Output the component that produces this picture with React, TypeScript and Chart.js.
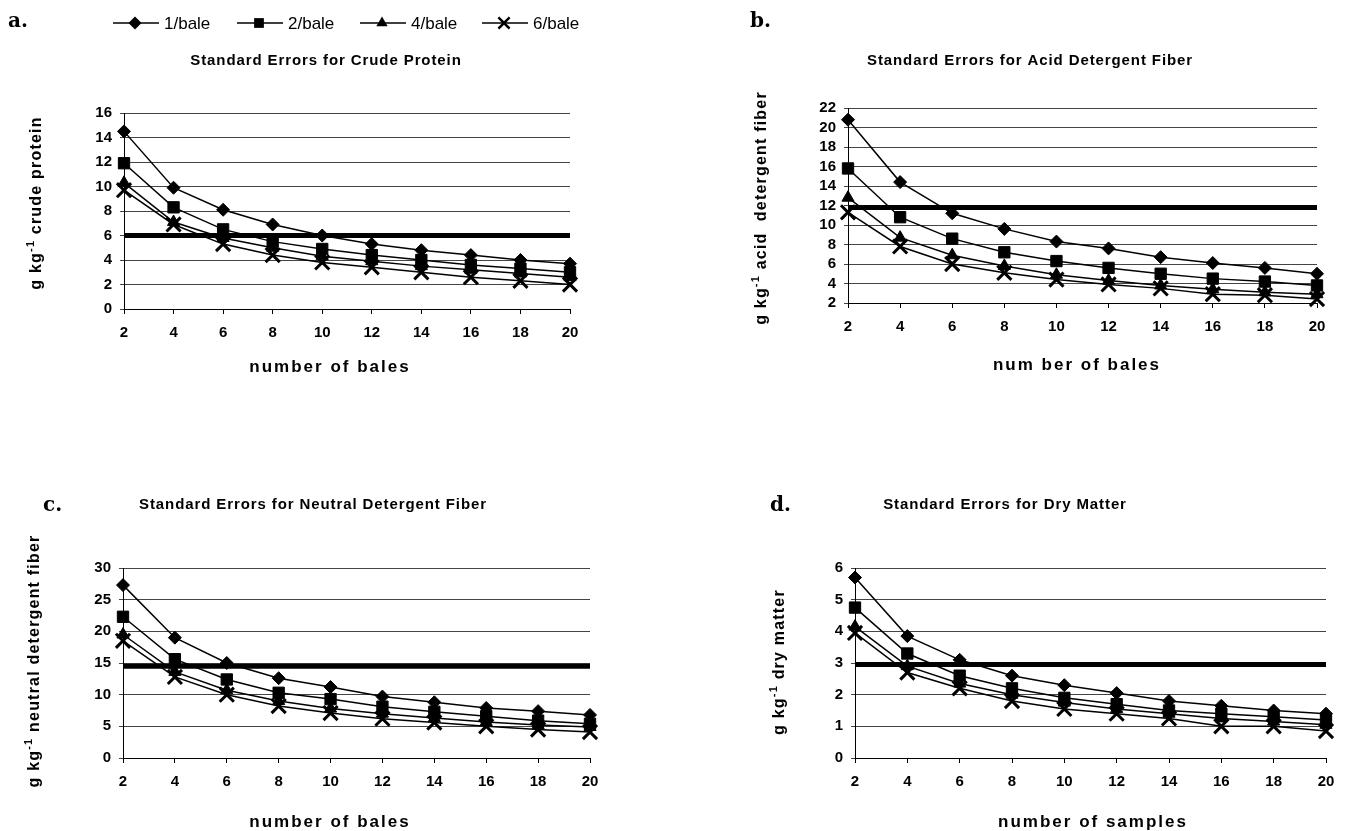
import React, { useEffect, useRef } from 'react';
import { Chart, registerables } from 'chart.js';
Chart.register(...registerables);

// ---------- data ----------
const bales = [2, 4, 6, 8, 10, 12, 14, 16, 18, 20];
const seriesNames = ['1/bale', '2/bale', '4/bale', '6/bale'];

const cpOne = [14.5, 9.9, 8.1, 6.9, 6.0, 5.3, 4.8, 4.4, 4.0, 3.7];
const cpTwo = [11.9, 8.3, 6.5, 5.5, 4.9, 4.4, 4.0, 3.6, 3.3, 3.0];
const cpFour = [10.3, 7.1, 5.8, 5.0, 4.3, 3.9, 3.5, 3.2, 2.9, 2.6];
const cpSix = [9.7, 6.9, 5.3, 4.4, 3.8, 3.4, 3.0, 2.6, 2.3, 2.0];
const cpLimit = 6.0;

const adfOne = [20.8, 14.4, 11.2, 9.6, 8.3, 7.6, 6.7, 6.1, 5.6, 5.0];
const adfTwo = [15.8, 10.8, 8.6, 7.2, 6.3, 5.6, 5.0, 4.5, 4.2, 3.8];
const adfFour = [12.8, 8.7, 6.9, 5.8, 4.9, 4.3, 3.8, 3.4, 3.1, 2.9];
const adfSix = [11.3, 7.8, 6.0, 5.1, 4.4, 3.9, 3.5, 2.9, 2.8, 2.4];
const adfLimit = 11.8;

const ndfOne = [27.3, 19.0, 15.0, 12.6, 11.2, 9.7, 8.8, 7.9, 7.4, 6.8];
const ndfTwo = [22.3, 15.6, 12.4, 10.3, 9.3, 8.1, 7.3, 6.6, 5.9, 5.4];
const ndfFour = [19.5, 13.6, 10.7, 9.0, 7.8, 7.0, 6.3, 5.7, 5.2, 4.9];
const ndfSix = [18.5, 12.8, 10.0, 8.2, 7.1, 6.2, 5.6, 5.0, 4.5, 4.1];
const ndfLimit = 14.5;

const dmOne = [5.7, 3.85, 3.1, 2.6, 2.3, 2.05, 1.8, 1.65, 1.5, 1.4];
const dmTwo = [4.75, 3.3, 2.6, 2.2, 1.9, 1.7, 1.5, 1.4, 1.3, 1.2];
const dmFour = [4.15, 2.9, 2.35, 2.0, 1.75, 1.55, 1.4, 1.25, 1.15, 1.05];
const dmSix = [3.95, 2.7, 2.2, 1.8, 1.55, 1.4, 1.25, 1.0, 1.0, 0.85];
const dmLimit = 2.95;

// ---------- styles / layout ----------
const SANS = '"Liberation Sans", Arial, sans-serif';
const SERIF = '"DejaVu Serif", "Liberation Serif", serif';
const markerStyles = ['rectRot', 'rect', 'triangle', 'crossRot'];
const markerRadius = [6.5, 8, 7, 10];
const Y_AXIS_W = 40;
const X_AXIS_H = 30;

type Panel = {
  letter: string; title: string; yTitle: string; xTitle: string;
  series: number[][]; limit: number; yMin: number; yMax: number; yStep: number;
  box: { L: number; T: number; W: number; H: number };
  area: { left: number; top: number; right: number; bottom: number };
  letterPos: [number, number]; titlePos: [number, number];
  xTitlePos: [number, number]; yTitlePos: [number, number];
  legend?: boolean;
};

const panels: Panel[] = [
  {
    letter: 'a.', title: 'Standard Errors for Crude Protein', yTitle: ' crude protein', xTitle: 'number of bales',
    series: [cpOne, cpTwo, cpFour, cpSix], limit: cpLimit, yMin: 0, yMax: 16, yStep: 2,
    box: { L: 0, T: 0, W: 670, H: 420 }, area: { left: 124, top: 113, right: 570, bottom: 309 },
    letterPos: [8, 27], titlePos: [326, 61], xTitlePos: [330, 367], yTitlePos: [37, 203], legend: true,
  },
  {
    letter: 'b.', title: 'Standard Errors for Acid Detergent Fiber', yTitle: ' acid  detergent fiber', xTitle: 'num ber of bales',
    series: [adfOne, adfTwo, adfFour, adfSix], limit: adfLimit, yMin: 2, yMax: 22, yStep: 2,
    box: { L: 670, T: 0, W: 679, H: 420 }, area: { left: 848, top: 108, right: 1317, bottom: 303 },
    letterPos: [750, 27], titlePos: [1030, 61], xTitlePos: [1077, 365], yTitlePos: [762, 208],
  },
  {
    letter: 'c.', title: 'Standard Errors for Neutral Detergent Fiber', yTitle: ' neutral detergent fiber', xTitle: 'number of bales',
    series: [ndfOne, ndfTwo, ndfFour, ndfSix], limit: ndfLimit, yMin: 0, yMax: 30, yStep: 5,
    box: { L: 0, T: 420, W: 670, H: 411 }, area: { left: 123, top: 568, right: 590, bottom: 758 },
    letterPos: [43, 511], titlePos: [313, 505], xTitlePos: [330, 822], yTitlePos: [35, 661],
  },
  {
    letter: 'd.', title: 'Standard Errors for Dry Matter', yTitle: ' dry matter', xTitle: 'number of samples',
    series: [dmOne, dmTwo, dmFour, dmSix], limit: dmLimit, yMin: 0, yMax: 6, yStep: 1,
    box: { L: 670, T: 420, W: 679, H: 411 }, area: { left: 855, top: 568, right: 1326, bottom: 758 },
    letterPos: [770, 511], titlePos: [1005, 505], xTitlePos: [1093, 822], yTitlePos: [780, 662],
  },
];

function drawMarker(ctx: CanvasRenderingContext2D, style: string, x: number, y: number, r: number) {
  ctx.save();
  ctx.fillStyle = '#000';
  ctx.strokeStyle = '#000';
  ctx.lineWidth = 2.5;
  ctx.beginPath();
  if (style === 'rectRot') {
    ctx.moveTo(x, y - r); ctx.lineTo(x + r, y); ctx.lineTo(x, y + r); ctx.lineTo(x - r, y); ctx.closePath(); ctx.fill();
  } else if (style === 'rect') {
    const s = r * 0.75;
    ctx.rect(x - s, y - s, 2 * s, 2 * s); ctx.fill();
  } else if (style === 'triangle') {
    ctx.moveTo(x, y - r); ctx.lineTo(x + r * 0.87, y + r * 0.5); ctx.lineTo(x - r * 0.87, y + r * 0.5); ctx.closePath(); ctx.fill();
  } else {
    const s = r * 0.7;
    ctx.moveTo(x - s, y - s); ctx.lineTo(x + s, y + s); ctx.moveTo(x + s, y - s); ctx.lineTo(x - s, y + s); ctx.stroke();
  }
  ctx.restore();
}

function spaced(ctx: any, px: number) {
  if ('letterSpacing' in ctx) ctx.letterSpacing = `${px}px`;
}

function makeTextPlugin(p: Panel) {
  return {
    id: 'panelText',
    afterDraw(chart: any) {
      const ctx: CanvasRenderingContext2D = chart.ctx;
      const ox = p.box.L, oy = p.box.T;
      ctx.save();
      ctx.fillStyle = '#000';
      // letter
      spaced(ctx, 0);
      ctx.font = `bold 20px ${SERIF}`;
      ctx.textAlign = 'left';
      ctx.textBaseline = 'alphabetic';
      ctx.fillText(p.letter, p.letterPos[0] - ox, p.letterPos[1] - oy);
      // title
      spaced(ctx, 0.9);
      ctx.font = `bold 15px ${SANS}`;
      ctx.textAlign = 'center';
      ctx.textBaseline = 'middle';
      ctx.fillText(p.title, p.titlePos[0] - ox, p.titlePos[1] - oy);
      // x title
      spaced(ctx, 2);
      ctx.font = `bold 17px ${SANS}`;
      ctx.fillText(p.xTitle, p.xTitlePos[0] - ox, p.xTitlePos[1] - oy);
      // y title with superscript
      ctx.save();
      ctx.translate(p.yTitlePos[0] - ox, p.yTitlePos[1] - oy);
      ctx.rotate(-Math.PI / 2);
      const parts = [
        { t: 'g kg', sup: false },
        { t: '-1', sup: true },
        { t: p.yTitle, sup: false },
      ];
      const fontFor = (sup: boolean) => (sup ? `bold 11px ${SANS}` : `bold 16px ${SANS}`);
      spaced(ctx, 1.2);
      let total = 0;
      for (const part of parts) { ctx.font = fontFor(part.sup); total += ctx.measureText(part.t).width; }
      let x = -total / 2;
      ctx.textAlign = 'left';
      ctx.textBaseline = 'middle';
      for (const part of parts) {
        ctx.font = fontFor(part.sup);
        ctx.fillText(part.t, x, part.sup ? -6 : 0);
        x += ctx.measureText(part.t).width;
      }
      ctx.restore();
      // legend
      if (p.legend) {
        const starts = [113, 237, 360, 482];
        const ly = 23;
        spaced(ctx, 0);
        ctx.font = `17px ${SANS}`;
        ctx.textAlign = 'left';
        ctx.textBaseline = 'middle';
        starts.forEach((sx, i) => {
          ctx.save();
          ctx.strokeStyle = '#000';
          ctx.lineWidth = 1.5;
          ctx.beginPath();
          ctx.moveTo(sx - ox, ly - oy);
          ctx.lineTo(sx + 46 - ox, ly - oy);
          ctx.stroke();
          ctx.restore();
          drawMarker(ctx, markerStyles[i], sx + 22 - ox, ly - oy, i === 3 ? 8 : 6.5);
          ctx.fillText(seriesNames[i], sx + 51 - ox, ly - oy + 1);
        });
      }
      ctx.restore();
    },
  };
}

function PanelChart({ p }: { p: Panel }) {
  const ref = useRef<HTMLCanvasElement>(null);
  useEffect(() => {
    if (!ref.current) return;
    const { L, T, W, H } = p.box;
    const padL = p.area.left - L - Y_AXIS_W;
    const padT = p.area.top - T;
    const padR = L + W - p.area.right;
    const padB = T + H - p.area.bottom - X_AXIS_H;
    const datasets: any[] = [
      {
        label: 'limit',
        data: [{ x: bales[0], y: p.limit }, { x: bales[bales.length - 1], y: p.limit }],
        borderColor: '#000', borderWidth: 5, pointRadius: 0, order: 0, clip: false,
      },
      ...p.series.map((vals, i) => ({
        label: seriesNames[i],
        data: bales.map((b, j) => ({ x: b, y: vals[j] })),
        borderColor: '#000', borderWidth: 1.5, backgroundColor: '#000',
        pointStyle: markerStyles[i], pointRadius: markerRadius[i],
        pointBackgroundColor: '#000', pointBorderColor: '#000',
        pointBorderWidth: i === 3 ? 3 : 1, tension: 0, order: 1, clip: false,
      })),
    ];
    const tickFont = { family: SANS, size: 15, weight: 'bold' as const };
    const chart = new Chart(ref.current, {
      type: 'line',
      data: { datasets },
      options: {
        animation: false,
        responsive: false,
        events: [],
        layout: { padding: { left: padL, top: padT, right: padR, bottom: padB } },
        plugins: { legend: { display: false }, title: { display: false }, tooltip: { enabled: false } },
        scales: {
          x: {
            type: 'linear', min: 2, max: 20,
            ticks: { stepSize: 2, color: '#000', font: tickFont, padding: 10, maxRotation: 0, autoSkip: false },
            grid: { display: true, drawOnChartArea: false, drawTicks: true, tickLength: 5, color: '#000' },
            border: { display: true, color: '#000', width: 1 },
            afterFit: (s: any) => { s.height = X_AXIS_H; },
          },
          y: {
            min: p.yMin, max: p.yMax,
            ticks: { stepSize: p.yStep, color: '#000', font: tickFont, padding: 8, autoSkip: false },
            grid: { color: '#444', lineWidth: 1, tickLength: 4, drawTicks: true },
            border: { display: true, color: '#000', width: 1 },
            afterFit: (s: any) => { s.width = Y_AXIS_W; },
          },
        },
      } as any,
      plugins: [makeTextPlugin(p)],
    });
    return () => chart.destroy();
  }, [p]);
  return (
    <canvas
      ref={ref}
      width={p.box.W}
      height={p.box.H}
      style={{ position: 'absolute', left: p.box.L, top: p.box.T, width: p.box.W, height: p.box.H }}
    />
  );
}

export default function App() {
  return (
    <div style={{ position: 'absolute', left: 0, top: 0, width: 1349, height: 831, background: '#fff', overflow: 'hidden' }}>
      {panels.map((p) => (
        <PanelChart key={p.letter} p={p} />
      ))}
    </div>
  );
}
